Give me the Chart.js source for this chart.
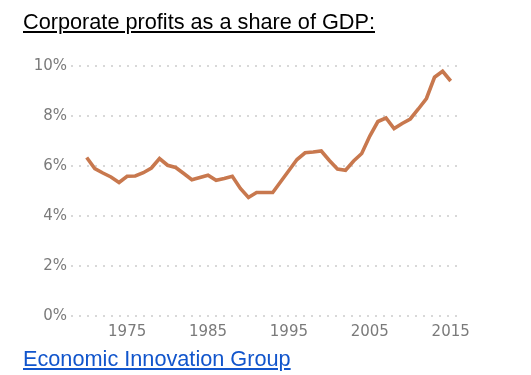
<!DOCTYPE html>
<html>
<head>
<meta charset="utf-8">
<script src="https://cdn.jsdelivr.net/npm/chart.js@4.4.0/dist/chart.umd.min.js"></script>
<style>
  html, body { margin: 0; padding: 0; background: #fff; width: 531px; height: 375px; overflow: hidden; }
  #wrap { position: relative; width: 531px; height: 375px; }
  #chart { position: absolute; left: 0; top: 0; }
  .title { position: absolute; left: 23px; top: 8.5px; font-family: "Liberation Sans", Arial, sans-serif; font-size: 21.7px; color: #000; text-decoration: underline; white-space: nowrap; line-height: normal; }
  .source { position: absolute; left: 23px; top: 346px; font-family: "Liberation Sans", Arial, sans-serif; font-size: 21.7px; color: #1155cc; text-decoration: underline; white-space: nowrap; line-height: normal; }
</style>
</head>
<body>
<div id="wrap">
  <canvas id="chart" width="531" height="375"></canvas>
  <div class="title">Corporate profits as a share of GDP:</div>
  <div class="source">Economic Innovation Group</div>
</div>
<script>
// ---- data ----
const years = [1970, 1971, 1972, 1973, 1974, 1975, 1976, 1977, 1978, 1979,
               1980, 1981, 1982, 1983, 1984, 1985, 1986, 1987, 1988, 1989,
               1990, 1991, 1992, 1993, 1994, 1995, 1996, 1997, 1998, 1999,
               2000, 2001, 2002, 2003, 2004, 2005, 2006, 2007, 2008, 2009,
               2010, 2011, 2012, 2013, 2014, 2015];
const profitShare = [6.34, 5.90, 5.72, 5.56, 5.34, 5.59, 5.60, 5.73, 5.92, 6.30,
                     6.03, 5.94, 5.70, 5.45, 5.54, 5.63, 5.43, 5.50, 5.59, 5.10,
                     4.74, 4.94, 4.94, 4.94, 5.38, 5.82, 6.26, 6.53, 6.56, 6.60,
                     6.22, 5.88, 5.83, 6.20, 6.50, 7.20, 7.78, 7.92, 7.50, 7.70,
                     7.88, 8.28, 8.70, 9.55, 9.79, 9.40];
const xTickYears = [1975, 1985, 1995, 2005, 2015];
const yTickValues = [0, 2, 4, 6, 8, 10];

const tickFont = { family: "'DejaVu Sans', sans-serif", size: 15 };
const tickColor = '#7a7a7a';

new Chart(document.getElementById('chart'), {
  type: 'line',
  data: {
    datasets: [{
      data: years.map((y, i) => ({ x: y, y: profitShare[i] })),
      borderColor: '#c8784e',
      borderWidth: 3.6,
      pointRadius: 0,
      tension: 0,
      fill: false
    }]
  },
  options: {
    responsive: false,
    animation: false,
    layout: { padding: { top: 66, right: 71, bottom: 29, left: 0 } },
    plugins: { legend: { display: false }, tooltip: { enabled: false }, title: { display: false } },
    scales: {
      x: {
        type: 'linear',
        min: 1968.06,
        max: 2016.15,
        afterBuildTicks: (scale) => { scale.ticks = xTickYears.map(v => ({ value: v })); },
        afterFit: (scale) => { scale.height = 30; },
        grid: { display: false, drawTicks: false },
        border: { display: false },
        ticks: { font: tickFont, color: tickColor, padding: 7, maxRotation: 0, autoSkip: false,
                 callback: (v) => String(v) }
      },
      y: {
        min: 0,
        max: 10,
        afterBuildTicks: (scale) => { scale.ticks = yTickValues.map(v => ({ value: v })); },
        afterFit: (scale) => { scale.width = 71; },
        grid: { color: '#d8d8d8', lineWidth: 2, drawTicks: false },
        border: { display: false, dash: [2, 6] },
        ticks: { font: tickFont, color: tickColor, padding: 4, callback: (v) => v + '%' }
      }
    }
  }
});
</script>
</body>
</html>
